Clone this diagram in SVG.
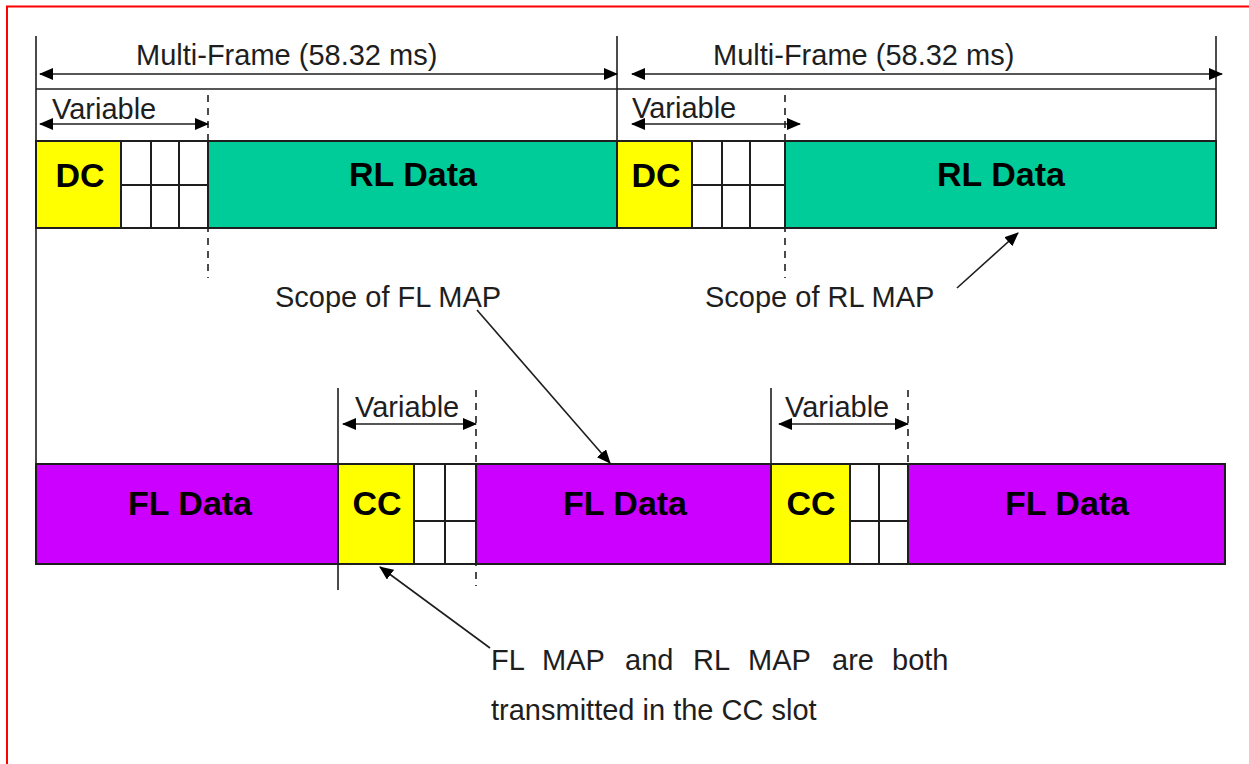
<svg xmlns="http://www.w3.org/2000/svg" width="1249" height="764" viewBox="0 0 1249 764">
  <style>
    .ln { stroke: #1e1e1e; stroke-width: 1.6; fill: none; }
    .dash { stroke: #1e1e1e; stroke-width: 1.6; fill: none; stroke-dasharray: 7 6; }
    .box { stroke: #1e1e1e; stroke-width: 2; }
    .lbl { font-family: "Liberation Sans", Arial, sans-serif; font-size: 29px; fill: #1e1e1e; }
    .bold { font-family: "Liberation Sans", Arial, sans-serif; font-size: 34px; font-weight: bold; fill: #000; text-anchor: middle; }
    .dc { fill: #FFFF00; }
    .rl { fill: #00CC99; }
    .fl { fill: #CC00FF; }
    .cell { fill: #FFFFFF; }
  </style>
  <defs>
    <marker id="head" markerUnits="userSpaceOnUse" markerWidth="14" markerHeight="12" refX="13" refY="6" orient="auto-start-reverse">
      <path d="M0,0 L14,6 L0,12 Z" fill="#000"/>
    </marker>
  </defs>

  <rect width="1249" height="764" fill="#FFFFFF"/>
  <!-- page frame -->
  <path d="M7,764 V6.5 H1249" stroke="#FF0000" stroke-width="2" fill="none"/>

  <!-- reverse-link multi-frame row -->
  <g id="rl-frame-top">
    <line class="ln" x1="36" y1="89" x2="1216" y2="89"/>
  </g>
  <g id="dc-1">
    <rect class="box dc" x="36" y="141" width="85" height="87"/>
    <text class="bold" x="80" y="187">DC</text>
  </g>
  <g id="dc-1-cells">
    <rect class="box cell" x="121" y="141" width="87" height="87"/>
    <line class="box" x1="121" y1="185" x2="208" y2="185"/>
    <line class="box" x1="151" y1="141" x2="151" y2="228"/>
    <line class="box" x1="179" y1="141" x2="179" y2="228"/>
  </g>
  <g id="rl-data-1">
    <rect class="box rl" x="208" y="141" width="409" height="87"/>
    <text class="bold" x="413" y="186">RL Data</text>
  </g>
  <g id="dc-2">
    <rect class="box dc" x="617" y="141" width="75" height="87"/>
    <text class="bold" x="656" y="187">DC</text>
  </g>
  <g id="dc-2-cells">
    <rect class="box cell" x="692" y="141" width="93" height="87"/>
    <line class="box" x1="692" y1="185" x2="785" y2="185"/>
    <line class="box" x1="722" y1="141" x2="722" y2="228"/>
    <line class="box" x1="750" y1="141" x2="750" y2="228"/>
  </g>
  <g id="rl-data-2">
    <rect class="box rl" x="785" y="141" width="431" height="87"/>
    <text class="bold" x="1001" y="186">RL Data</text>
  </g>

  <!-- forward-link row -->
  <g id="fl-data-1">
    <rect class="box fl" x="36" y="464" width="302" height="100"/>
    <text class="bold" x="190" y="515">FL Data</text>
  </g>
  <g id="cc-1">
    <rect class="box dc" x="338" y="464" width="76" height="100"/>
    <text class="bold" x="377" y="515">CC</text>
  </g>
  <g id="cc-1-cells">
    <rect class="box cell" x="414" y="464" width="62" height="100"/>
    <line class="box" x1="414" y1="521" x2="476" y2="521"/>
    <line class="box" x1="445" y1="464" x2="445" y2="564"/>
  </g>
  <g id="fl-data-2">
    <rect class="box fl" x="476" y="464" width="295" height="100"/>
    <text class="bold" x="625" y="515">FL Data</text>
  </g>
  <g id="cc-2">
    <rect class="box dc" x="771" y="464" width="79" height="100"/>
    <text class="bold" x="811" y="515">CC</text>
  </g>
  <g id="cc-2-cells">
    <rect class="box cell" x="850" y="464" width="58" height="100"/>
    <line class="box" x1="850" y1="521" x2="908" y2="521"/>
    <line class="box" x1="879" y1="464" x2="879" y2="564"/>
  </g>
  <g id="fl-data-3">
    <rect class="box fl" x="908" y="464" width="317" height="100"/>
    <text class="bold" x="1067" y="515">FL Data</text>
  </g>

  <!-- labels -->
  <g id="labels">
    <text class="lbl" x="136" y="65">Multi-Frame (58.32 ms)</text>
    <text class="lbl" x="713" y="65">Multi-Frame (58.32 ms)</text>
    <text class="lbl" x="52" y="119">Variable</text>
    <text class="lbl" x="632" y="118">Variable</text>
    <text class="lbl" x="355" y="417">Variable</text>
    <text class="lbl" x="785" y="417">Variable</text>
    <text class="lbl" x="275" y="307">Scope of FL MAP</text>
    <text class="lbl" x="705" y="307">Scope of RL MAP</text>
    <text class="lbl" y="670"><tspan x="491">FL</tspan><tspan x="542">MAP</tspan><tspan x="625">and</tspan><tspan x="693">RL</tspan><tspan x="748">MAP</tspan><tspan x="832">are</tspan><tspan x="892">both</tspan></text>
    <text class="lbl" x="491" y="720">transmitted in the CC slot</text>
  </g>

  <!-- boundaries, spans and callouts -->
  <g id="connectors">
    <line class="ln" x1="36" y1="36" x2="36" y2="464"/>
    <line class="ln" x1="617" y1="36" x2="617" y2="141"/>
    <line class="ln" x1="1216" y1="36" x2="1216" y2="141"/>
    <line class="ln" x1="338" y1="388" x2="338" y2="590"/>
    <line class="ln" x1="771" y1="388" x2="771" y2="464"/>

    <line class="dash" x1="208" y1="95" x2="208" y2="278"/>
    <line class="dash" x1="785" y1="95" x2="785" y2="278"/>
    <line class="dash" x1="476" y1="390" x2="476" y2="586"/>
    <line class="dash" x1="908" y1="390" x2="908" y2="464"/>

    <line class="ln" x1="40" y1="74" x2="617" y2="74" marker-start="url(#head)" marker-end="url(#head)"/>
    <line class="ln" x1="632" y1="74" x2="1222" y2="74" marker-start="url(#head)" marker-end="url(#head)"/>
    <line class="ln" x1="40" y1="124" x2="208" y2="124" marker-start="url(#head)" marker-end="url(#head)"/>
    <line class="ln" x1="632" y1="124" x2="800" y2="124" marker-start="url(#head)" marker-end="url(#head)"/>
    <line class="ln" x1="343" y1="424" x2="476" y2="424" marker-start="url(#head)" marker-end="url(#head)"/>
    <line class="ln" x1="779" y1="424" x2="908" y2="424" marker-start="url(#head)" marker-end="url(#head)"/>

    <line class="ln" x1="477" y1="310" x2="610" y2="463" marker-end="url(#head)"/>
    <line class="ln" x1="957" y1="288" x2="1018" y2="233" marker-end="url(#head)"/>
    <line class="ln" x1="490" y1="648" x2="380" y2="567" marker-end="url(#head)"/>
  </g>
</svg>
